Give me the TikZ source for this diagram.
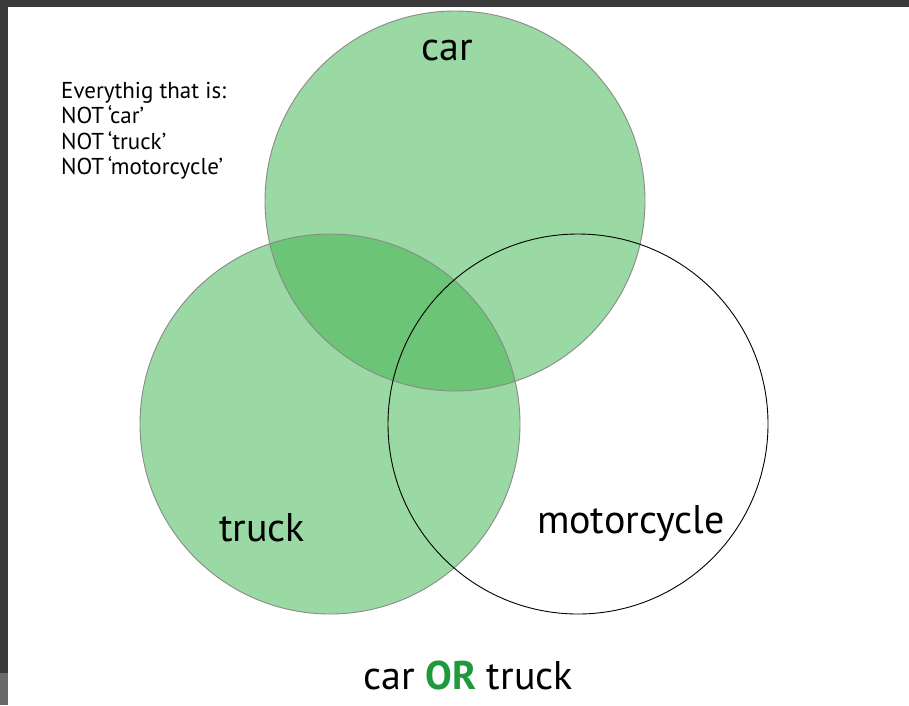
\documentclass[tikz,border=0pt]{standalone}
\usepackage{fontspec}
\setmainfont{PT Sans}
\definecolor{lightg}{HTML}{9AD9A3}
\definecolor{darkg}{HTML}{6CC477}
\definecolor{orgreen}{HTML}{1E9A3C}
\definecolor{frame}{HTML}{3A3A3A}
\definecolor{framelow}{HTML}{6A6A6A}
\definecolor{edge}{HTML}{8A8A8A}
\begin{document}
\begin{tikzpicture}[x=1pt,y=-1pt,
  setedge/.style={draw=edge,line width=0.9pt},
  bigtext/.style={font=\fontsize{40}{44}\selectfont},
  smalltext/.style={font=\fontsize{23}{25.5}\selectfont,align=left,anchor=north west,inner sep=0pt}]
\useasboundingbox (0,0) rectangle (909,705);
\fill[white] (0,0) rectangle (909,705);
% frame
\fill[frame] (0,0) rectangle (909,7);
\fill[frame] (0,0) rectangle (8,705);
\fill[framelow] (0,673) rectangle (8,705);
% circles
\coordinate (carc) at (455,201);
\coordinate (truckc) at (330,424);
\coordinate (motoc) at (578,424);
\fill[lightg] (truckc) circle (190);
\fill[lightg] (carc) circle (190);
\begin{scope}
  \clip (truckc) circle (190);
  \fill[darkg] (carc) circle (190);
\end{scope}
\draw[setedge] (carc) circle (190);
\draw[setedge] (truckc) circle (190);
\draw[black,line width=0.9pt] (motoc) circle (190);
% labels
\node[bigtext] (carlbl) at (447,50) {car};
\node[bigtext] (trucklbl) at (262,528) {truck};
\node[bigtext] (motolbl) at (631,524) {motorcycle};
\node[bigtext] (title) at (468,675) {car \textcolor{orgreen}{\textbf{OR}} truck};
\node[smalltext] (note) at (61,82) {Everythig that is:\\NOT\,‘car’\\NOT\,‘truck’\\NOT\,‘motorcycle’};
\end{tikzpicture}
\end{document}
